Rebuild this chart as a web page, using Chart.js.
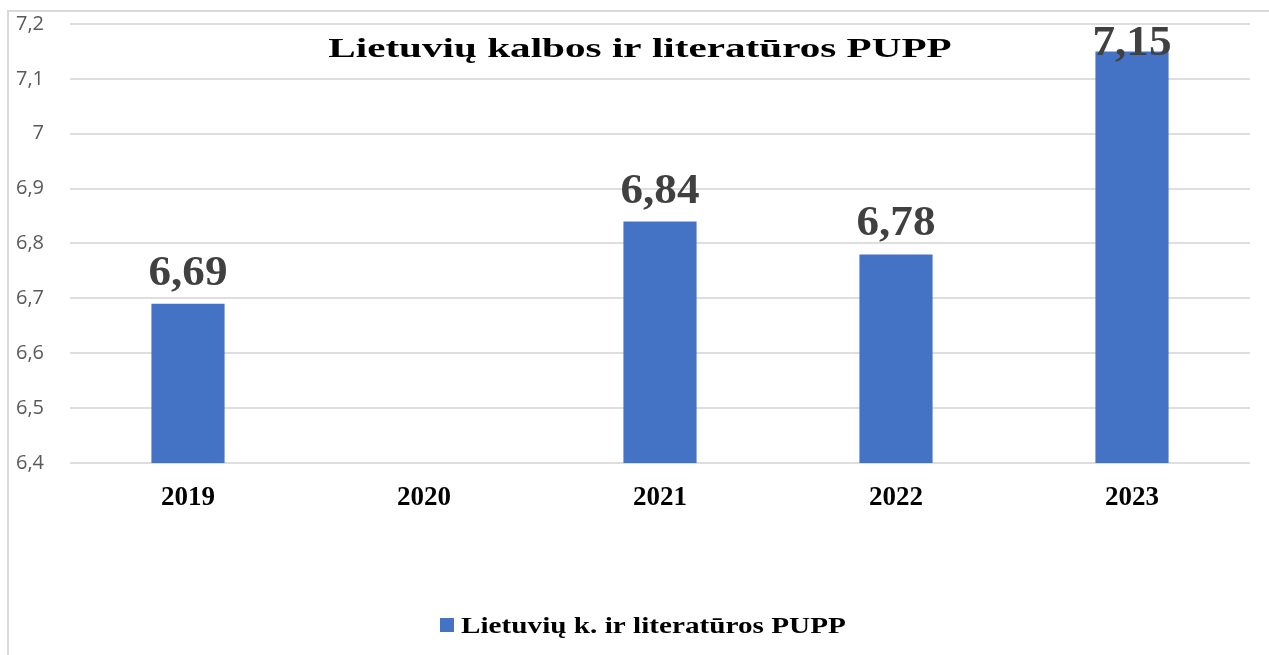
<!DOCTYPE html>
<html>
<head>
<meta charset="utf-8">
<script src="https://cdn.jsdelivr.net/npm/chart.js@4"></script>
<style>
  html, body { margin: 0; padding: 0; background: #fff; }
  #wrap { position: relative; width: 1269px; height: 655px; }
  #frame { position: absolute; left: 7px; top: 10px; right: 0; bottom: 0;
           border-left: 2px solid #d9d9d9; border-top: 2px solid #d9d9d9; pointer-events: none; }
</style>
</head>
<body>
<div id="wrap">
  <canvas id="myChart" width="1269" height="655"></canvas>
  <div id="frame"></div>
</div>
<script>
// Duomenys
const years = ['2019', '2020', '2021', '2022', '2023'];
const scores = [6.69, null, 6.84, 6.78, 7.15];
const yMin = 6.4;
const yMax = 7.2;
const yStep = 0.1;
const chartTitle = 'Lietuvių kalbos ir literatūros PUPP';
const seriesName = 'Lietuvių k. ir literatūros PUPP';

const serif = '"Liberation Serif", "DejaVu Serif", serif';

// skaičius su kableliu
function fmt(v) {
    return String(Math.round(v * 100) / 100).replace('.', ',');
}

// tekstas ištemptas horizontaliai (kaip originale)
function wideText(ctx, text, x, y, sx, align) {
    ctx.save();
    ctx.translate(x, y);
    ctx.scale(sx, 1);
    ctx.textAlign = align;
    ctx.fillText(text, 0, 0);
    ctx.restore();
}

// pavadinimas, reikšmės virš stulpelių ir legenda
const labelsPlugin = {
    id: 'labelsPlugin',
    afterDatasetsDraw(chart) {
        const ctx = chart.ctx;
        const ds = chart.data.datasets[0];
        ctx.save();
        ctx.textBaseline = 'alphabetic';

        ctx.fillStyle = '#000';
        ctx.font = 'bold 28px ' + serif;
        wideText(ctx, chartTitle, 640, 57, 1.47, 'center');

        ctx.fillStyle = '#404040';
        ctx.font = 'bold 43px ' + serif;
        const meta = chart.getDatasetMeta(0);
        meta.data.forEach((bar, i) => {
            if (scores[i] == null) return;
            let y = bar.y - 19;
            if (y < 55) y = 55;
            wideText(ctx, fmt(scores[i]), bar.x, y, 1.05, 'center');
        });

        // legenda
        ctx.fillStyle = ds.backgroundColor;
        ctx.fillRect(440, 618, 14, 14);
        ctx.fillStyle = '#000';
        ctx.font = 'bold 23px ' + serif;
        wideText(ctx, ds.label, 461, 633, 1.27, 'left');
        ctx.restore();
    }
};

const ctx = document.getElementById('myChart').getContext('2d');
new Chart(ctx, {
    type: 'bar',
    data: {
        labels: years,
        datasets: [{
            label: seriesName,
            data: scores,
            backgroundColor: '#4472c4',
            categoryPercentage: 1,
            barPercentage: 0.31
        }]
    },
    options: {
        responsive: false,
        animation: false,
        layout: { padding: { left: 8, right: 19, top: 0, bottom: 0 } },
        plugins: {
            title: { display: false },
            tooltip: { enabled: false },
            legend: { display: false }
        },
        scales: {
            x: {
                grid: { display: false },
                border: { display: false },
                ticks: {
                    color: '#000',
                    padding: 11,
                    font: { family: serif, size: 27, weight: 'bold' }
                },
                afterFit(scale) { scale.height = 192; }
            },
            y: {
                min: yMin,
                max: yMax,
                grid: { color: '#dedede', lineWidth: 2, drawTicks: false },
                border: { display: false },
                ticks: {
                    stepSize: yStep,
                    padding: 26,
                    color: '#595959',
                    font: { family: '"Open Sans", "Noto Sans", sans-serif', size: 20 },
                    callback: (v) => fmt(Math.round(v * 10) / 10)
                },
                afterFit(scale) {
                    scale.width = 62;
                    scale.paddingTop = 24;
                    scale.paddingBottom = 0;
                }
            }
        }
    },
    plugins: [labelsPlugin]
});
</script>
</body>
</html>
